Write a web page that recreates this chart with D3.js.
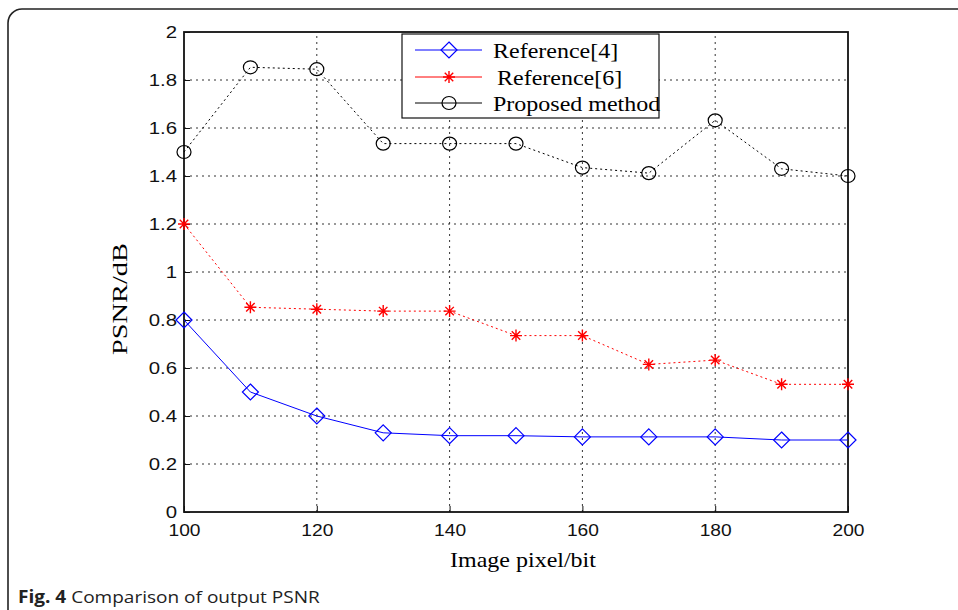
<!DOCTYPE html>
<html>
<head>
<meta charset="utf-8">
<script src="https://cdn.jsdelivr.net/npm/d3@7"></script>
<style>
  body { margin: 0; background: #fff; }
  svg { display: block; }
</style>
</head>
<body>
<svg id="chart" width="958" height="610"></svg>
<script>
// data
var pixels = [100, 110, 120, 130, 140, 150, 160, 170, 180, 190, 200]
var ref4 = [0.8, 0.5, 0.4, 0.33, 0.318, 0.318, 0.313, 0.313, 0.313, 0.3, 0.3]
var ref6 = [1.2, 0.853, 0.845, 0.837, 0.837, 0.735, 0.735, 0.615, 0.633, 0.532, 0.532]
var proposed = [1.5, 1.853, 1.845, 1.535, 1.535, 1.535, 1.435, 1.412, 1.632, 1.43, 1.4]
var xTicks = [100, 120, 140, 160, 180, 200]
var yTicks = [0, 0.2, 0.4, 0.6, 0.8, 1, 1.2, 1.4, 1.6, 1.8, 2]
var seriesNames = ["Reference[4]", "Reference[6]", "Proposed method"]

var dimensions = {
  width: 958,
  height: 610,
  margin: { top: 32, bottom: 98, left: 184, right: 110 }
}
// the source figure is stretched sideways, text too
var stretch = 1.2

var svg = d3.select("#chart")

// outer frame
svg.append("rect")
  .attr("x", 8).attr("y", 9)
  .attr("width", 980).attr("height", 640)
  .attr("rx", 14)
  .attr("fill", "none")
  .attr("stroke", "#222")
  .attr("stroke-width", 1.6)

var xScale = d3.scaleLinear()
  .domain([100, 200])
  .range([dimensions.margin.left, dimensions.width - dimensions.margin.right])
var yScale = d3.scaleLinear()
  .domain([0, 2])
  .range([dimensions.height - dimensions.margin.bottom, dimensions.margin.top])

var x0 = xScale.range()[0], x1 = xScale.range()[1]
var y0 = yScale.range()[0], y1 = yScale.range()[1]

// grid
var grid = svg.append("g")
grid.selectAll(".gy")
  .data(yTicks.slice(1, -1))
  .enter().append("line")
  .attr("x1", x0).attr("x2", x1)
  .attr("y1", d => yScale(d)).attr("y2", d => yScale(d))
  .attr("stroke", "#333").attr("stroke-width", 1)
  .attr("stroke-dasharray", "2,4")
grid.selectAll(".gx")
  .data(xTicks.slice(1, -1))
  .enter().append("line")
  .attr("y1", y0).attr("y2", y1)
  .attr("x1", d => xScale(d)).attr("x2", d => xScale(d))
  .attr("stroke", "#333").attr("stroke-width", 1)
  .attr("stroke-dasharray", "2,4")

// axes
var xAxisGen = d3.axisBottom(xScale).tickValues(xTicks).tickSizeInner(-6).tickSizeOuter(0)
var yAxisGen = d3.axisLeft(yScale).tickValues(yTicks).tickFormat(d => d).tickSizeInner(-6).tickSizeOuter(0)

var xAxis = svg.append("g")
  .attr("transform", `translate(0,${y0})`)
  .call(xAxisGen)
var yAxis = svg.append("g")
  .attr("transform", `translate(${x0},0)`)
  .call(yAxisGen)
;[xAxis, yAxis].forEach(a => {
  a.select(".domain").remove()
  a.selectAll("line").attr("stroke", "#111")
})
xAxis.selectAll("text")
  .attr("font-family", "Liberation Sans, Arial, sans-serif").attr("font-size", 16).attr("fill", "#111")
  .attr("y", 0).attr("dy", 0)
  .attr("transform", `translate(0,24) scale(${stretch},1)`)
yAxis.selectAll("text")
  .attr("font-family", "Liberation Sans, Arial, sans-serif").attr("font-size", 17).attr("fill", "#111")
  .attr("x", 0).attr("dy", "0.35em")
  .attr("transform", `translate(-7,0) scale(${stretch},1)`)

// box
svg.append("rect")
  .attr("x", x0).attr("y", y1)
  .attr("width", x1 - x0).attr("height", y0 - y1)
  .attr("fill", "none").attr("stroke", "#111").attr("stroke-width", 1.8)

// axis labels
svg.append("text")
  .attr("transform", `translate(${(x0 + x1) / 2 + 7},567) scale(${stretch},1)`)
  .attr("text-anchor", "middle")
  .attr("font-family", "Liberation Serif, Times New Roman, serif")
  .attr("font-size", 20)
  .text("Image pixel/bit")
svg.append("text")
  .attr("transform", `translate(127,299) rotate(-90) scale(1.35,1)`)
  .attr("text-anchor", "middle")
  .attr("font-family", "Liberation Serif, Times New Roman, serif")
  .attr("font-size", 21)
  .text("PSNR/dB")

// markers
function diamond(g, cx, cy, color) {
  g.append("path")
    .attr("d", `M${cx},${cy - 8}L${cx + 8},${cy}L${cx},${cy + 8}L${cx - 8},${cy}Z`)
    .attr("fill", "none").attr("stroke", color).attr("stroke-width", 1.2)
}
function star(g, cx, cy, color) {
  var r = 6
  var p = ""
  for (var i = 0; i < 4; i++) {
    var a = i * Math.PI / 4
    p += `M${cx - r * Math.cos(a)},${cy - r * Math.sin(a)}L${cx + r * Math.cos(a)},${cy + r * Math.sin(a)}`
  }
  g.append("path").attr("d", p).attr("stroke", color).attr("stroke-width", 1.4)
}
function circle(g, cx, cy, color) {
  g.append("ellipse")
    .attr("cx", cx).attr("cy", cy).attr("rx", 7).attr("ry", 6.5)
    .attr("fill", "none").attr("stroke", color).attr("stroke-width", 1.2)
}

var series = [
  { name: seriesNames[0], values: ref4, color: "#0000ff", dash: null, marker: diamond },
  { name: seriesNames[1], values: ref6, color: "#ff0000", dash: "2,3", marker: star },
  { name: seriesNames[2], values: proposed, color: "#000000", dash: "2,3", marker: circle }
]

var line = d3.line()
  .x((d, i) => xScale(pixels[i]))
  .y(d => yScale(d))

series.forEach(s => {
  var g = svg.append("g")
  g.append("path")
    .attr("d", line(s.values))
    .attr("fill", "none")
    .attr("stroke", s.color)
    .attr("stroke-width", 1)
    .attr("stroke-dasharray", s.dash)
  s.values.forEach((v, i) => s.marker(g, xScale(pixels[i]), yScale(v), s.color))
})

// legend
var legend = svg.append("g")
legend.append("rect")
  .attr("x", 402).attr("y", 34).attr("width", 257).attr("height", 84)
  .attr("fill", "#fff").attr("stroke", "#111").attr("stroke-width", 1.2)
var rowY = [50, 77, 103]
series.forEach((s, i) => {
  var ly = rowY[i]
  legend.append("line")
    .attr("x1", 415).attr("x2", 482).attr("y1", ly).attr("y2", ly)
    .attr("stroke", s.color).attr("stroke-width", 1)
  s.marker(legend, 449, ly, s.color)
  legend.append("text")
    .attr("transform", `translate(${i == 1 ? 497 : 493},${ly + 7.5}) scale(${stretch},1)`)
    .attr("font-family", "Liberation Serif, Times New Roman, serif")
    .attr("font-size", 20)
    .text(s.name)
})

// caption
var cap = svg.append("text")
  .attr("transform", "translate(18,603) scale(1.12,1)")
  .attr("font-family", "Open Sans, sans-serif")
  .attr("font-size", 17)
  .attr("fill", "#222")
cap.append("tspan").attr("font-weight", "bold").text("Fig. 4")
cap.append("tspan").text(" Comparison of output PSNR")
</script>
</body>
</html>
